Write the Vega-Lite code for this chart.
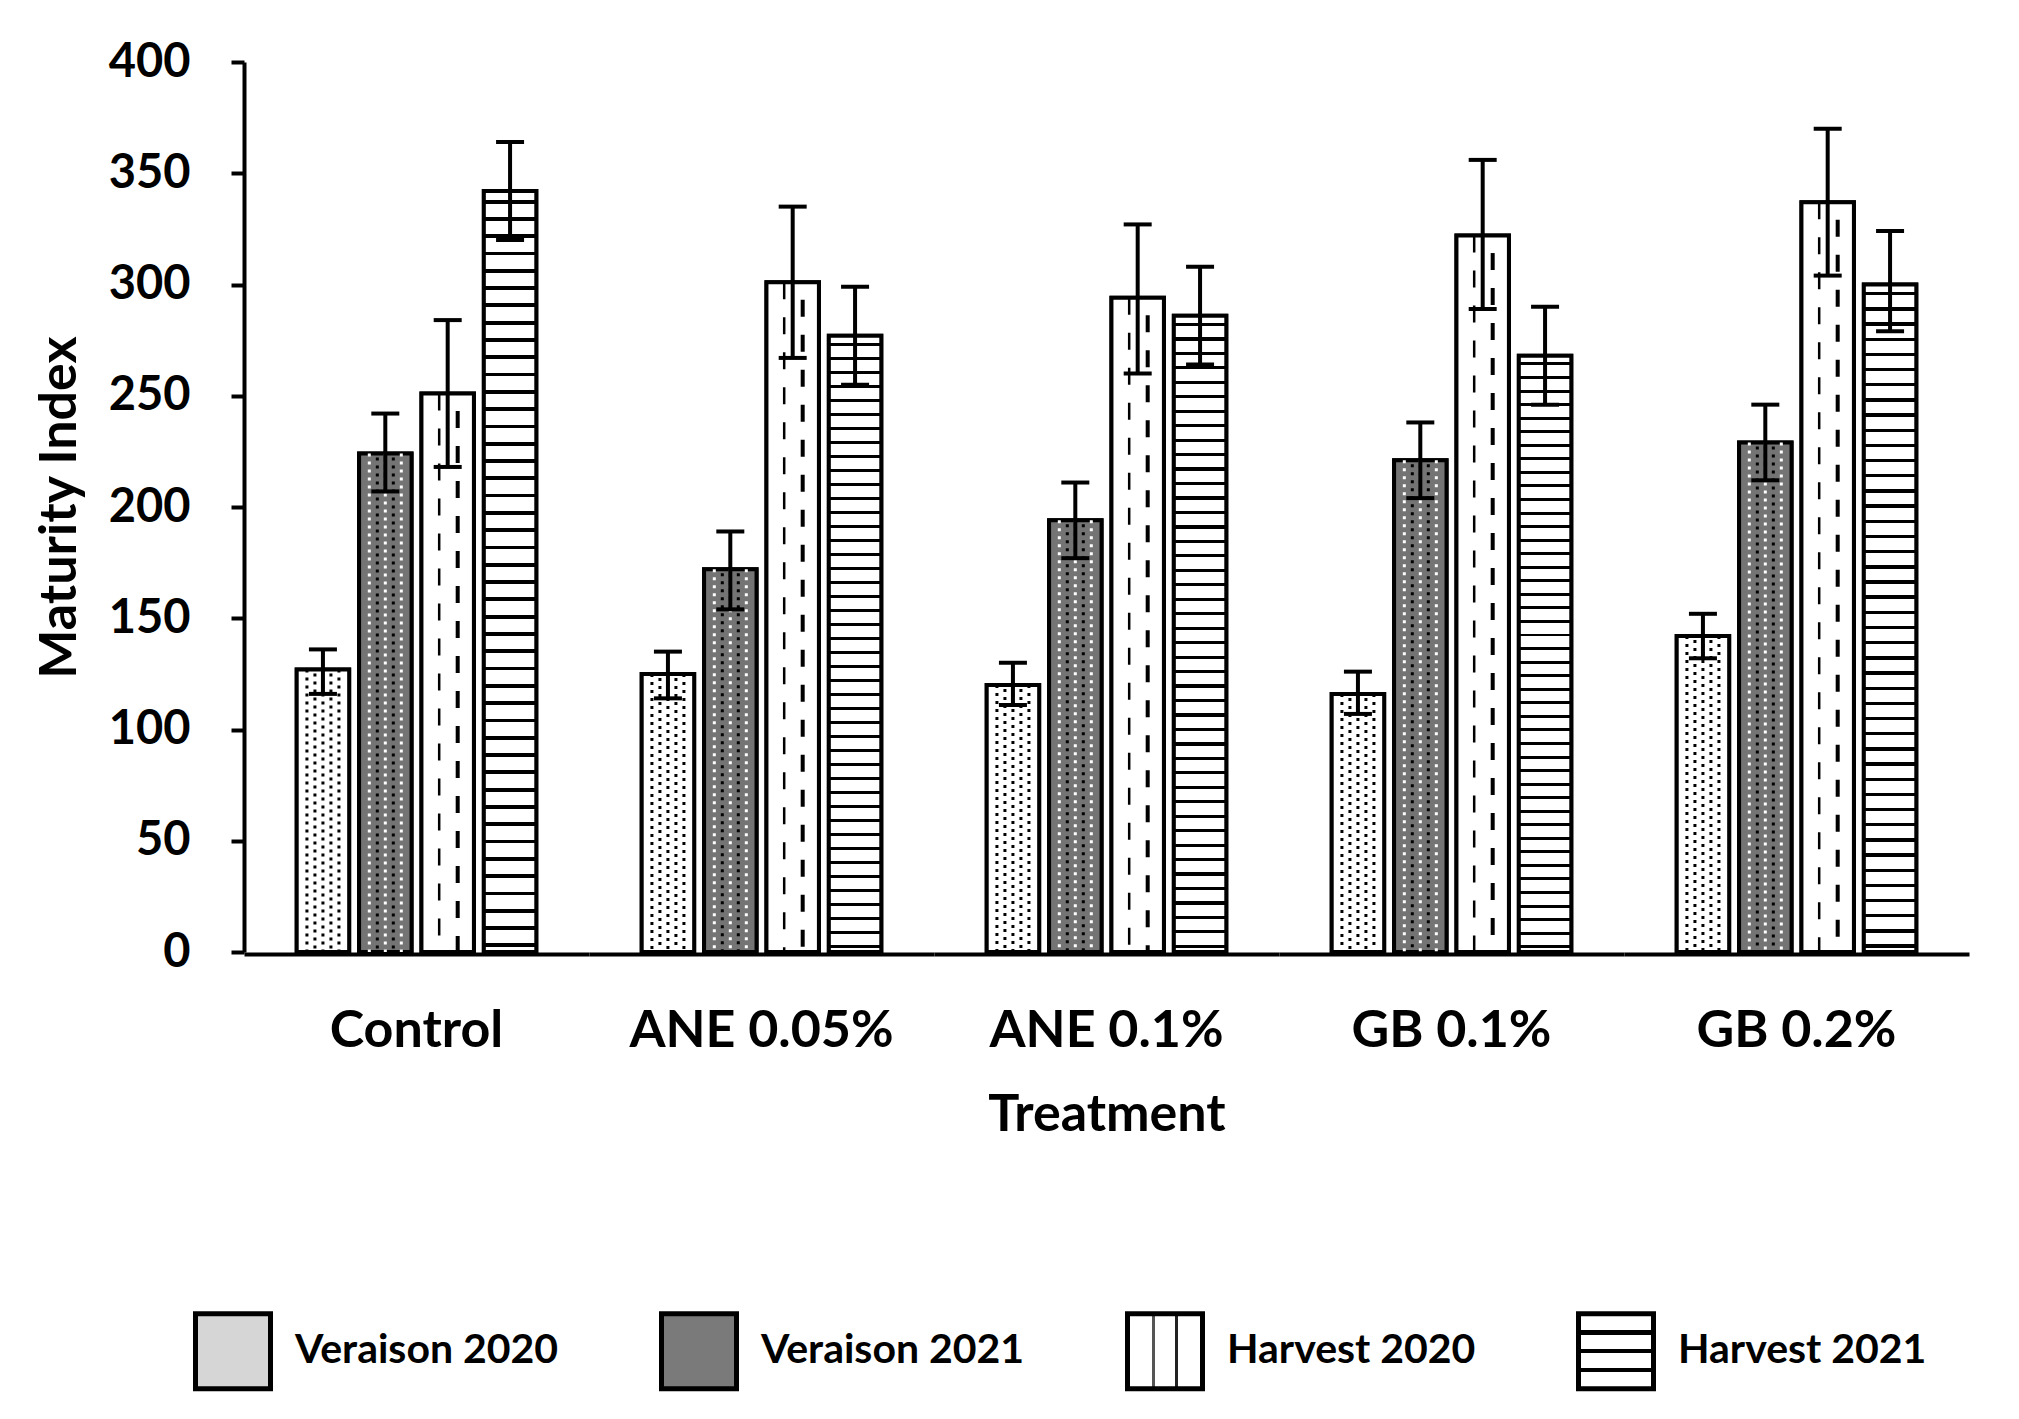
{
  "$schema": "https://vega.github.io/schema/vega-lite/v6.json",
  "padding": {"left": 33, "top": 38, "right": 20, "bottom": 10},
  "spacing": 0,
  "data": {"values": [
    {"treatment":"Control","stage":"Veraison 2020","value":127,"lo":116,"hi":136},
    {"treatment":"Control","stage":"Veraison 2021","value":224,"lo":207,"hi":242},
    {"treatment":"Control","stage":"Harvest 2020","value":251,"lo":218,"hi":284},
    {"treatment":"Control","stage":"Harvest 2021","value":342,"lo":320,"hi":364},
    {"treatment":"ANE 0.05%","stage":"Veraison 2020","value":125,"lo":114,"hi":135},
    {"treatment":"ANE 0.05%","stage":"Veraison 2021","value":172,"lo":154,"hi":189},
    {"treatment":"ANE 0.05%","stage":"Harvest 2020","value":301,"lo":267,"hi":335},
    {"treatment":"ANE 0.05%","stage":"Harvest 2021","value":277,"lo":255,"hi":299},
    {"treatment":"ANE 0.1%","stage":"Veraison 2020","value":120,"lo":111,"hi":130},
    {"treatment":"ANE 0.1%","stage":"Veraison 2021","value":194,"lo":177,"hi":211},
    {"treatment":"ANE 0.1%","stage":"Harvest 2020","value":294,"lo":260,"hi":327},
    {"treatment":"ANE 0.1%","stage":"Harvest 2021","value":286,"lo":264,"hi":308},
    {"treatment":"GB 0.1%","stage":"Veraison 2020","value":116,"lo":107,"hi":126},
    {"treatment":"GB 0.1%","stage":"Veraison 2021","value":221,"lo":204,"hi":238},
    {"treatment":"GB 0.1%","stage":"Harvest 2020","value":322,"lo":289,"hi":356},
    {"treatment":"GB 0.1%","stage":"Harvest 2021","value":268,"lo":246,"hi":290},
    {"treatment":"GB 0.2%","stage":"Veraison 2020","value":142,"lo":132,"hi":152},
    {"treatment":"GB 0.2%","stage":"Veraison 2021","value":229,"lo":212,"hi":246},
    {"treatment":"GB 0.2%","stage":"Harvest 2020","value":337,"lo":304,"hi":370},
    {"treatment":"GB 0.2%","stage":"Harvest 2021","value":300,"lo":279,"hi":324}
  ]},
  "facet": {
    "column": {
      "field": "treatment", "type": "nominal",
      "sort": ["Control","ANE 0.05%","ANE 0.1%","GB 0.1%","GB 0.2%"],
      "header": {"title": "Treatment", "titleOrient": "bottom", "labelOrient": "bottom"}
    }
  },
  "spec": {
    "width": 345,
    "height": 890,
    "encoding": {
      "x": {
        "field": "stage", "type": "nominal",
        "sort": ["Veraison 2020","Veraison 2021","Harvest 2020","Harvest 2021"],
        "scale": {"paddingInner": 0.159, "paddingOuter": 0.845},
        "axis": {"labels": false, "ticks": false, "title": null, "domainColor": "black", "domainWidth": 4}
      }
    },
    "layer": [
      {
        "mark": {"type": "bar", "stroke": "black", "strokeWidth": 4},
        "encoding": {
          "y": {"field": "value", "type": "quantitative", "title": "Maturity Index",
                "scale": {"domain": [0, 400], "nice": false},
                "axis": {"values": [0,50,100,150,200,250,300,350,400]}},
          "fill": {
            "field": "stage", "type": "nominal",
            "sort": ["Veraison 2020","Veraison 2021","Harvest 2020","Harvest 2021"],
            "scale": {
              "domain": ["Veraison 2020","Veraison 2021","Harvest 2020","Harvest 2021"],
              "range": [
                "#d6d6d6",
                "#7a7a7a",
                {"expr": "{gradient:'linear',x1:0,y1:0,x2:1,y2:0,stops:[{offset:0,color:'white'},{offset:0.33,color:'white'},{offset:0.33,color:'#555'},{offset:0.37,color:'#555'},{offset:0.37,color:'white'},{offset:0.63,color:'white'},{offset:0.63,color:'#222'},{offset:0.68,color:'#222'},{offset:0.68,color:'white'},{offset:1,color:'white'}]}"},
                {"expr": "{gradient:'linear',x1:0,y1:0,x2:0,y2:1,stops:[{offset:0,color:'white'},{offset:0.22,color:'white'},{offset:0.22,color:'black'},{offset:0.28,color:'black'},{offset:0.28,color:'white'},{offset:0.47,color:'white'},{offset:0.47,color:'black'},{offset:0.53,color:'black'},{offset:0.53,color:'white'},{offset:0.72,color:'white'},{offset:0.72,color:'black'},{offset:0.78,color:'black'},{offset:0.78,color:'white'},{offset:1,color:'white'}]}"}
              ]
            },
            "legend": {
              "orient": "none", "legendX": -51, "legendY": 1249,
              "direction": "horizontal", "title": null,
              "symbolType": "square", "symbolSize": 5625,
              "symbolStrokeColor": "black", "symbolStrokeWidth": 5,
              "labelFontSize": 41, "labelFontWeight": "bold", "labelColor": "black",
              "labelOffset": 22, "columnPadding": 92, "padding": 0, "labelLimit": 0
            }
          }
        }
      },
      {
        "mark": {"type": "bar", "stroke": "black", "strokeWidth": 4},
        "encoding": {
          "y": {"field": "value", "type": "quantitative", "title": "Maturity Index"},
          "fill": {
            "condition": [
              {"test": "datum.stage === 'Harvest 2021'", "value": {"gradient": "linear", "x1": 0, "y1": 0, "x2": 0, "y2": 1, "stops": [
                {"offset":0,"color":"white"},
                {"offset":0.0114,"color":"white"},{"offset":0.0114,"color":"black"},{"offset":0.0164,"color":"black"},{"offset":0.0164,"color":"white"},
                {"offset":0.0341,"color":"white"},{"offset":0.0341,"color":"black"},{"offset":0.0391,"color":"black"},{"offset":0.0391,"color":"white"},
                {"offset":0.0568,"color":"white"},{"offset":0.0568,"color":"black"},{"offset":0.0618,"color":"black"},{"offset":0.0618,"color":"white"},
                {"offset":0.0795,"color":"white"},{"offset":0.0795,"color":"black"},{"offset":0.0845,"color":"black"},{"offset":0.0845,"color":"white"},
                {"offset":0.1023,"color":"white"},{"offset":0.1023,"color":"black"},{"offset":0.1073,"color":"black"},{"offset":0.1073,"color":"white"},
                {"offset":0.125,"color":"white"},{"offset":0.125,"color":"black"},{"offset":0.13,"color":"black"},{"offset":0.13,"color":"white"},
                {"offset":0.1477,"color":"white"},{"offset":0.1477,"color":"black"},{"offset":0.1527,"color":"black"},{"offset":0.1527,"color":"white"},
                {"offset":0.1705,"color":"white"},{"offset":0.1705,"color":"black"},{"offset":0.1755,"color":"black"},{"offset":0.1755,"color":"white"},
                {"offset":0.1932,"color":"white"},{"offset":0.1932,"color":"black"},{"offset":0.1982,"color":"black"},{"offset":0.1982,"color":"white"},
                {"offset":0.2159,"color":"white"},{"offset":0.2159,"color":"black"},{"offset":0.2209,"color":"black"},{"offset":0.2209,"color":"white"},
                {"offset":0.2386,"color":"white"},{"offset":0.2386,"color":"black"},{"offset":0.2436,"color":"black"},{"offset":0.2436,"color":"white"},
                {"offset":0.2614,"color":"white"},{"offset":0.2614,"color":"black"},{"offset":0.2664,"color":"black"},{"offset":0.2664,"color":"white"},
                {"offset":0.2841,"color":"white"},{"offset":0.2841,"color":"black"},{"offset":0.2891,"color":"black"},{"offset":0.2891,"color":"white"},
                {"offset":0.3068,"color":"white"},{"offset":0.3068,"color":"black"},{"offset":0.3118,"color":"black"},{"offset":0.3118,"color":"white"},
                {"offset":0.3295,"color":"white"},{"offset":0.3295,"color":"black"},{"offset":0.3345,"color":"black"},{"offset":0.3345,"color":"white"},
                {"offset":0.3523,"color":"white"},{"offset":0.3523,"color":"black"},{"offset":0.3573,"color":"black"},{"offset":0.3573,"color":"white"},
                {"offset":0.375,"color":"white"},{"offset":0.375,"color":"black"},{"offset":0.38,"color":"black"},{"offset":0.38,"color":"white"},
                {"offset":0.3977,"color":"white"},{"offset":0.3977,"color":"black"},{"offset":0.4027,"color":"black"},{"offset":0.4027,"color":"white"},
                {"offset":0.4205,"color":"white"},{"offset":0.4205,"color":"black"},{"offset":0.4255,"color":"black"},{"offset":0.4255,"color":"white"},
                {"offset":0.4432,"color":"white"},{"offset":0.4432,"color":"black"},{"offset":0.4482,"color":"black"},{"offset":0.4482,"color":"white"},
                {"offset":0.4659,"color":"white"},{"offset":0.4659,"color":"black"},{"offset":0.4709,"color":"black"},{"offset":0.4709,"color":"white"},
                {"offset":0.4886,"color":"white"},{"offset":0.4886,"color":"black"},{"offset":0.4936,"color":"black"},{"offset":0.4936,"color":"white"},
                {"offset":0.5114,"color":"white"},{"offset":0.5114,"color":"black"},{"offset":0.5164,"color":"black"},{"offset":0.5164,"color":"white"},
                {"offset":0.5341,"color":"white"},{"offset":0.5341,"color":"black"},{"offset":0.5391,"color":"black"},{"offset":0.5391,"color":"white"},
                {"offset":0.5568,"color":"white"},{"offset":0.5568,"color":"black"},{"offset":0.5618,"color":"black"},{"offset":0.5618,"color":"white"},
                {"offset":0.5795,"color":"white"},{"offset":0.5795,"color":"black"},{"offset":0.5845,"color":"black"},{"offset":0.5845,"color":"white"},
                {"offset":0.6023,"color":"white"},{"offset":0.6023,"color":"black"},{"offset":0.6073,"color":"black"},{"offset":0.6073,"color":"white"},
                {"offset":0.625,"color":"white"},{"offset":0.625,"color":"black"},{"offset":0.63,"color":"black"},{"offset":0.63,"color":"white"},
                {"offset":0.6477,"color":"white"},{"offset":0.6477,"color":"black"},{"offset":0.6527,"color":"black"},{"offset":0.6527,"color":"white"},
                {"offset":0.6705,"color":"white"},{"offset":0.6705,"color":"black"},{"offset":0.6755,"color":"black"},{"offset":0.6755,"color":"white"},
                {"offset":0.6932,"color":"white"},{"offset":0.6932,"color":"black"},{"offset":0.6982,"color":"black"},{"offset":0.6982,"color":"white"},
                {"offset":0.7159,"color":"white"},{"offset":0.7159,"color":"black"},{"offset":0.7209,"color":"black"},{"offset":0.7209,"color":"white"},
                {"offset":0.7386,"color":"white"},{"offset":0.7386,"color":"black"},{"offset":0.7436,"color":"black"},{"offset":0.7436,"color":"white"},
                {"offset":0.7614,"color":"white"},{"offset":0.7614,"color":"black"},{"offset":0.7664,"color":"black"},{"offset":0.7664,"color":"white"},
                {"offset":0.7841,"color":"white"},{"offset":0.7841,"color":"black"},{"offset":0.7891,"color":"black"},{"offset":0.7891,"color":"white"},
                {"offset":0.8068,"color":"white"},{"offset":0.8068,"color":"black"},{"offset":0.8118,"color":"black"},{"offset":0.8118,"color":"white"},
                {"offset":0.8295,"color":"white"},{"offset":0.8295,"color":"black"},{"offset":0.8345,"color":"black"},{"offset":0.8345,"color":"white"},
                {"offset":0.8523,"color":"white"},{"offset":0.8523,"color":"black"},{"offset":0.8573,"color":"black"},{"offset":0.8573,"color":"white"},
                {"offset":0.875,"color":"white"},{"offset":0.875,"color":"black"},{"offset":0.88,"color":"black"},{"offset":0.88,"color":"white"},
                {"offset":0.8977,"color":"white"},{"offset":0.8977,"color":"black"},{"offset":0.9027,"color":"black"},{"offset":0.9027,"color":"white"},
                {"offset":0.9205,"color":"white"},{"offset":0.9205,"color":"black"},{"offset":0.9255,"color":"black"},{"offset":0.9255,"color":"white"},
                {"offset":0.9432,"color":"white"},{"offset":0.9432,"color":"black"},{"offset":0.9482,"color":"black"},{"offset":0.9482,"color":"white"},
                {"offset":0.9659,"color":"white"},{"offset":0.9659,"color":"black"},{"offset":0.9709,"color":"black"},{"offset":0.9709,"color":"white"},
                {"offset":0.9886,"color":"white"},{"offset":0.9886,"color":"black"},{"offset":0.9936,"color":"black"},{"offset":0.9936,"color":"white"},
                {"offset":1,"color":"white"}
              ]}},
              {"test": "datum.stage === 'Veraison 2021'", "value": "#747474"}
            ],
            "value": "white"
          }
        }
      },
      {
        "transform": [{"filter": "datum.stage === 'Veraison 2020' || datum.stage === 'Veraison 2021'"}],
        "mark": {"type": "rule", "xOffset": -16, "strokeWidth": 3, "strokeDash": [3, 5], "strokeDashOffset": 0},
        "encoding": {
          "y": {"field": "value", "type": "quantitative", "title": "Maturity Index"},
          "y2": {"datum": 0},
          "stroke": {"condition": {"test": "datum.stage === 'Veraison 2021'", "value": "white"}, "value": "black"}
        }
      },
      {
        "transform": [{"filter": "datum.stage === 'Veraison 2020' || datum.stage === 'Veraison 2021'"}],
        "mark": {"type": "rule", "xOffset": -8, "strokeWidth": 3, "strokeDash": [3, 5], "strokeDashOffset": 4},
        "encoding": {
          "y": {"field": "value", "type": "quantitative", "title": "Maturity Index"},
          "y2": {"datum": 0},
          "stroke": {"condition": {"test": "datum.stage === 'Veraison 2021'", "value": "black"}, "value": "black"}
        }
      },
      {
        "transform": [{"filter": "datum.stage === 'Veraison 2020' || datum.stage === 'Veraison 2021'"}],
        "mark": {"type": "rule", "xOffset": 0, "strokeWidth": 3, "strokeDash": [3, 5], "strokeDashOffset": 0},
        "encoding": {
          "y": {"field": "value", "type": "quantitative", "title": "Maturity Index"},
          "y2": {"datum": 0},
          "stroke": {"condition": {"test": "datum.stage === 'Veraison 2021'", "value": "white"}, "value": "black"}
        }
      },
      {
        "transform": [{"filter": "datum.stage === 'Veraison 2020' || datum.stage === 'Veraison 2021'"}],
        "mark": {"type": "rule", "xOffset": 8, "strokeWidth": 3, "strokeDash": [3, 5], "strokeDashOffset": 4},
        "encoding": {
          "y": {"field": "value", "type": "quantitative", "title": "Maturity Index"},
          "y2": {"datum": 0},
          "stroke": {"condition": {"test": "datum.stage === 'Veraison 2021'", "value": "black"}, "value": "black"}
        }
      },
      {
        "transform": [{"filter": "datum.stage === 'Veraison 2020' || datum.stage === 'Veraison 2021'"}],
        "mark": {"type": "rule", "xOffset": 16, "strokeWidth": 3, "strokeDash": [3, 5], "strokeDashOffset": 0},
        "encoding": {
          "y": {"field": "value", "type": "quantitative", "title": "Maturity Index"},
          "y2": {"datum": 0},
          "stroke": {"condition": {"test": "datum.stage === 'Veraison 2021'", "value": "white"}, "value": "black"}
        }
      },
      {
        "transform": [{"filter": "datum.stage === 'Harvest 2020'"}],
        "mark": {"type": "rule", "xOffset": -8.5, "strokeWidth": 2.5, "strokeDash": [17, 18], "strokeDashOffset": 0, "color": "black"},
        "encoding": {
          "y": {"field": "value", "type": "quantitative", "title": "Maturity Index"},
          "y2": {"datum": 0}
        }
      },
      {
        "transform": [{"filter": "datum.stage === 'Harvest 2020'"}],
        "mark": {"type": "rule", "xOffset": 10, "strokeWidth": 4, "strokeDash": [17, 18], "strokeDashOffset": 17.5, "color": "black"},
        "encoding": {
          "y": {"field": "value", "type": "quantitative", "title": "Maturity Index"},
          "y2": {"datum": 0}
        }
      },
      {
        "mark": {"type": "rule", "strokeWidth": 4, "color": "black"},
        "encoding": {
          "y": {"field": "lo", "type": "quantitative", "title": "Maturity Index"},
          "y2": {"field": "hi"}
        }
      },
      {
        "mark": {"type": "tick", "size": 28, "thickness": 4, "color": "black", "opacity": 1},
        "encoding": {"y": {"field": "lo", "type": "quantitative", "title": "Maturity Index"}}
      },
      {
        "mark": {"type": "tick", "size": 28, "thickness": 4, "color": "black", "opacity": 1},
        "encoding": {"y": {"field": "hi", "type": "quantitative", "title": "Maturity Index"}}
      }
    ]
  },
  "config": {
    "font": "Lato",
    "view": {"stroke": null},
    "axis": {"grid": false},
    "axisY": {
      "domainColor": "black", "domainWidth": 4,
      "tickColor": "black", "tickWidth": 4, "tickSize": 13,
      "labelFontSize": 47, "labelFontWeight": "bold", "labelColor": "black", "labelPadding": 41,
      "titleFontSize": 52, "titleFontWeight": "bold", "titleColor": "black", "titlePadding": 22
    },
    "header": {
      "labelFontSize": 52, "labelFontWeight": "bold", "labelColor": "black", "labelPadding": 52,
      "titleFontSize": 52, "titleFontWeight": "bold", "titleColor": "black", "titlePadding": 23
    }
  }
}
